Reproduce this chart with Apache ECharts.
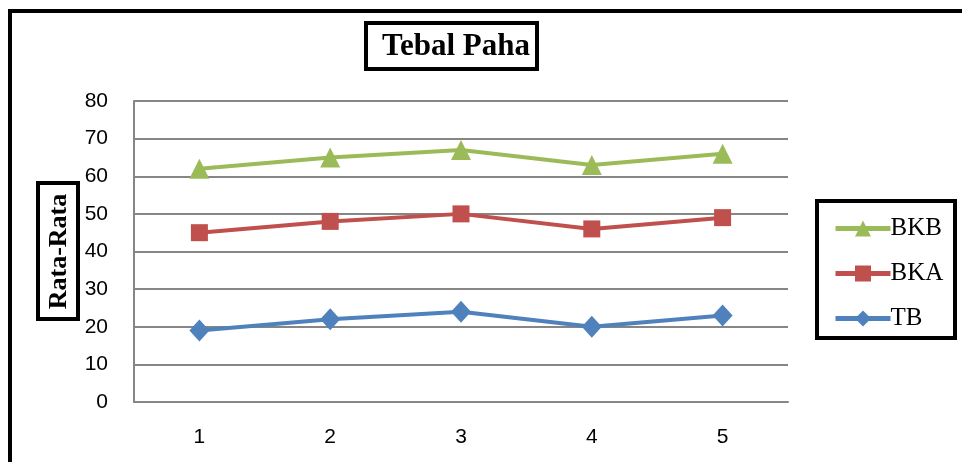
<!DOCTYPE html>
<html>
<head>
<meta charset="utf-8">
<script src="https://cdn.jsdelivr.net/npm/echarts@6/dist/echarts.min.js"></script>
<style>
  html, body { margin: 0; padding: 0; background: #fff; }
  #chart { width: 962px; height: 462px; }
</style>
</head>
<body>
<div id="chart"></div>
<script>
// Rata-rata tebal paha per ulangan
const categories = ['1', '2', '3', '4', '5'];
const bkb = [62, 65, 67, 63, 66];
const bka = [45, 48, 50, 46, 49];
const tb  = [19, 22, 24, 20, 23];
const legendOrder = ['BKB', 'BKA', 'TB'];

const serif = '"Liberation Serif", "Times New Roman", serif';
const sans = '"Liberation Sans", Arial, sans-serif';

function lineSeries(name, data, color, symbol, size) {
  return {
    name: name,
    type: 'line',
    data: data,
    symbol: symbol,
    symbolSize: size,
    lineStyle: { color: color, width: 4 },
    itemStyle: { color: color },
    emphasis: { disabled: true }
  };
}

const chart = echarts.init(document.getElementById('chart'));
chart.setOption({
  animation: false,
  backgroundColor: '#fff',
  title: {
    text: 'Tebal Paha',
    left: 451,
    top: 26,
    textAlign: 'center',
    textStyle: { fontFamily: serif, fontWeight: 'bold', fontSize: 31, color: '#000' }
  },
  graphic: [
    // outer frame
    { type: 'rect', shape: { x: 10, y: 11, width: 1000, height: 500 },
      style: { fill: 'none', stroke: '#000', lineWidth: 4 }, silent: true },
    // title box
    { type: 'rect', shape: { x: 366, y: 23, width: 171, height: 46 },
      style: { fill: 'none', stroke: '#000', lineWidth: 4 }, silent: true },
    // axis name box
    { type: 'rect', shape: { x: 38, y: 183, width: 40, height: 136 },
      style: { fill: 'none', stroke: '#000', lineWidth: 4 }, silent: true },
    // legend box
    { type: 'rect', shape: { x: 817, y: 201, width: 138, height: 137 },
      style: { fill: 'none', stroke: '#000', lineWidth: 4 }, silent: true }
  ],
  legend: {
    data: legendOrder,
    orient: 'vertical',
    left: 828,
    top: 211,
    itemWidth: 55,
    itemHeight: 20,
    itemGap: 20,
    lineStyle: { width: 5 },
    textStyle: { fontFamily: serif, fontSize: 25, color: '#000', padding: [0, 0, 0, -5] }
  },
  grid: { left: 134, right: 174, top: 101, bottom: 60 },
  xAxis: {
    type: 'category',
    data: categories,
    boundaryGap: true,
    axisLine: { lineStyle: { color: '#868686', width: 2 } },
    axisTick: { show: false },
    axisLabel: { fontFamily: sans, fontSize: 21, color: '#000', margin: 25 }
  },
  yAxis: {
    type: 'value',
    min: 0,
    max: 80,
    interval: 10,
    name: 'Rata-Rata',
    nameLocation: 'middle',
    nameRotate: 90,
    nameGap: 62,
    nameTextStyle: { fontFamily: serif, fontWeight: 'bold', fontSize: 26, color: '#000' },
    axisLine: { show: true, lineStyle: { color: '#868686', width: 2 } },
    axisTick: { show: false },
    splitLine: { lineStyle: { color: '#868686', width: 2 } },
    axisLabel: { fontFamily: sans, fontSize: 21, color: '#000', margin: 26 }
  },
  series: [
    lineSeries('TB', tb, '#4F81BD', 'diamond', [20, 22]),
    lineSeries('BKA', bka, '#C0504D', 'rect', 17),
    lineSeries('BKB', bkb, '#9BBB59', 'triangle', 20)
  ]
});
</script>
</body>
</html>
